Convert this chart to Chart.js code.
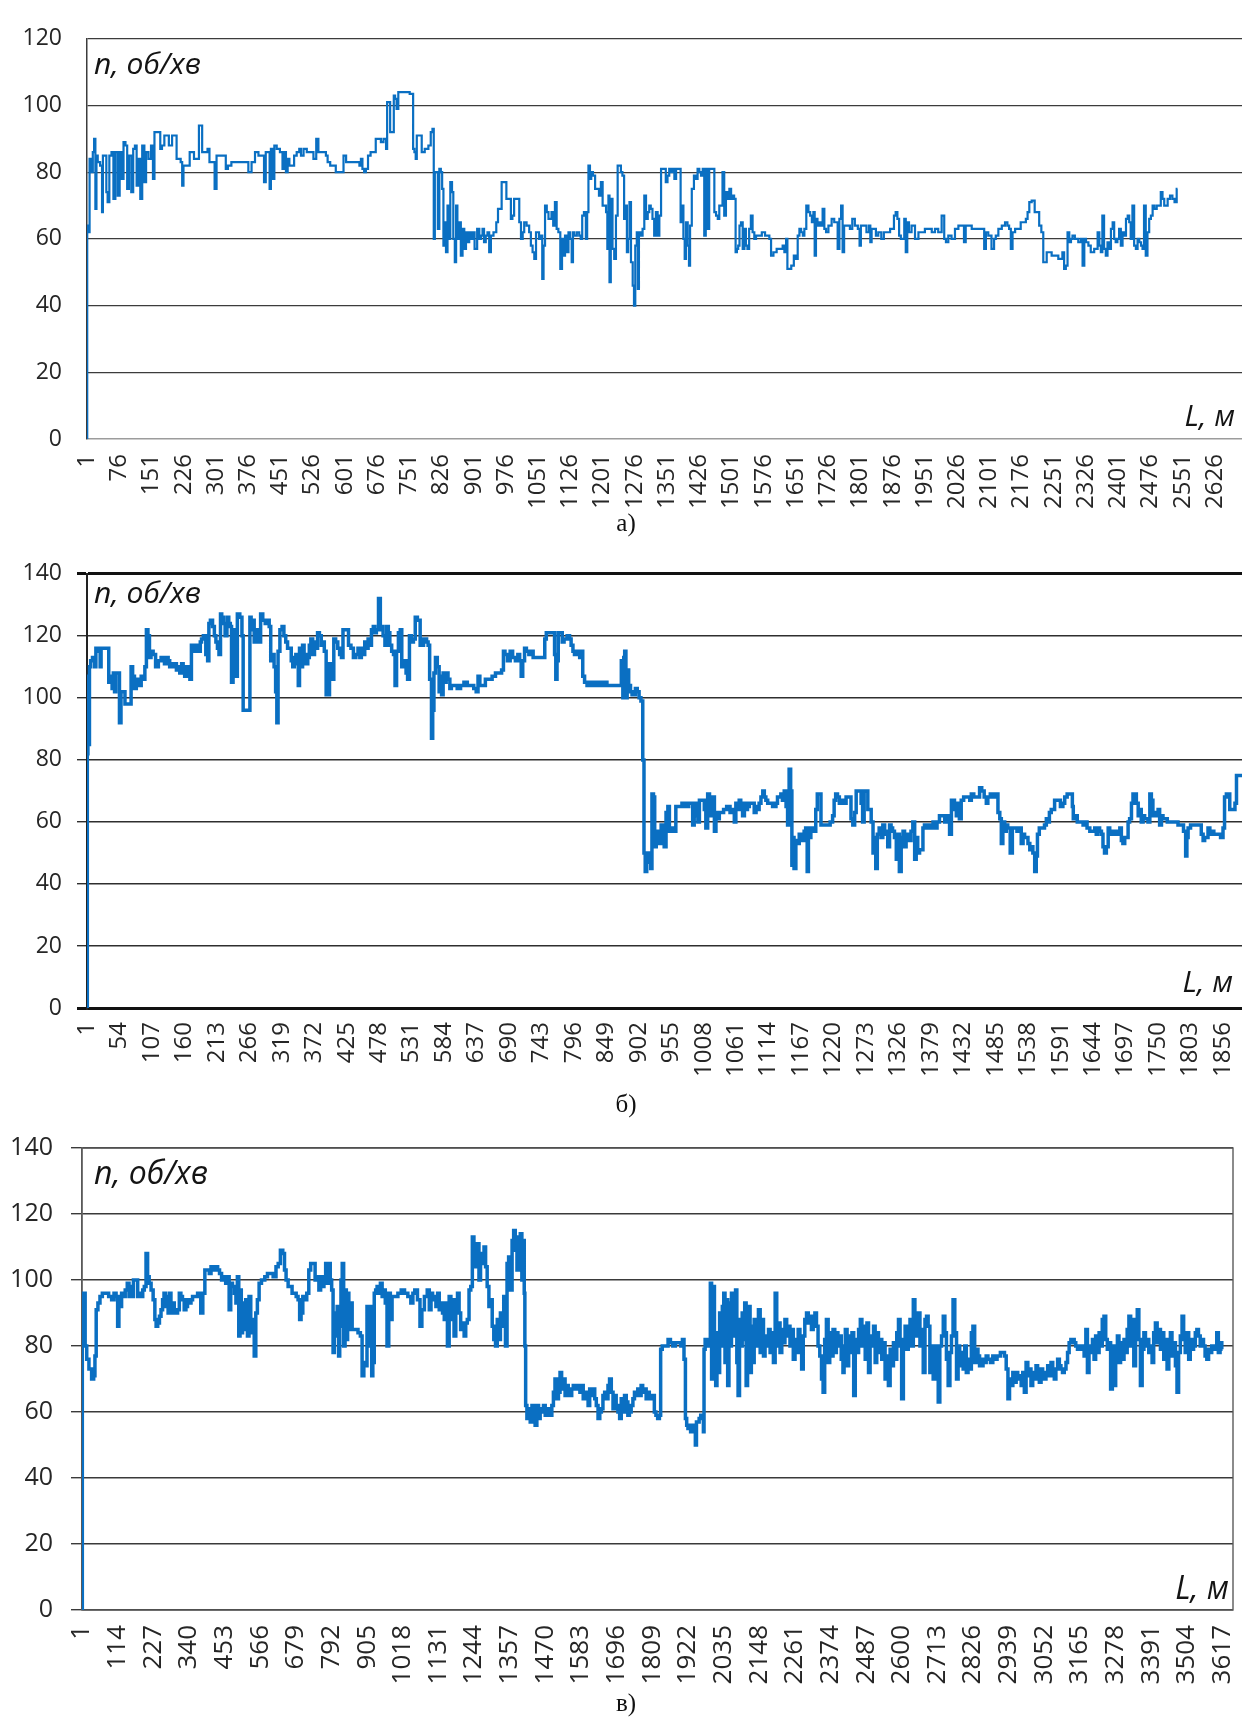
<!DOCTYPE html>
<html lang="uk">
<head>
<meta charset="utf-8">
<title>n, об/хв — L, м</title>
<script src="https://cdn.jsdelivr.net/npm/chart.js@4.4.1/dist/chart.umd.min.js"></script>
<style>
  html, body { margin: 0; padding: 0; background: #fff; }
  body { width: 1242px; height: 1718px; position: relative; overflow: hidden; }
  .panel { position: absolute; left: 0; width: 1242px; }
  .panel canvas { display: block; }
  .cap { position: absolute; z-index: 2; transform: translate(-50%, -50%);
         font-family: "Liberation Serif", "DejaVu Serif", serif; font-size: 25px; color: #111; }
</style>
</head>
<body>
<div class="panel" style="top:0;height:535px"><canvas id="chA" width="1242" height="535"></canvas></div>
<div class="panel" style="top:545px;height:540px"><canvas id="chB" width="1242" height="540"></canvas></div>
<div class="panel" style="top:1115px;height:600px"><canvas id="chC" width="1242" height="600"></canvas></div>
<div class="cap" style="left:626px;top:523px">а)</div>
<div class="cap" style="left:626px;top:1104px">б)</div>
<div class="cap" style="left:626px;top:1703px">в)</div>
<script>
// Rotational speed n (об/хв) against distance L (м) for three runs: [L, n]
const pointsA = [
[1,0],[2,64],[6,62],[8,84],[13,80],[16,86],[19,90],[22,69],[24,85],[28,83],
[35,82],[37,68],[39,85],[45,85],[47,74],[51,71],[55,85],[61,86],[64,72],[70,86],
[75,73],[79,86],[84,78],[88,89],[93,88],[96,75],[101,85],[107,74],[110,87],[115,88],
[118,76],[123,84],[127,72],[132,88],[137,77],[140,86],[148,84],[152,88],[157,78],[159,92],
[171,92],[172,87],[179,88],[183,91],[190,91],[193,88],[198,88],[200,91],[208,91],[211,84],
[217,84],[221,83],[224,76],[227,82],[239,82],[241,86],[249,86],[251,84],[260,84],[263,94],
[268,94],[270,86],[280,86],[283,87],[289,83],[295,83],[301,75],[304,85],[322,85],[326,81],
[332,82],[342,83],[357,83],[373,83],[380,80],[388,83],[396,86],[404,85],[411,85],[415,77],
[419,86],[425,86],[427,75],[431,87],[435,78],[439,88],[446,87],[454,86],[458,81],[462,86],
[466,80],[470,84],[474,82],[481,82],[485,85],[493,86],[497,87],[501,85],[509,87],[516,86],
[524,86],[532,84],[537,90],[542,86],[555,86],[559,85],[563,83],[571,82],[578,82],[582,80],
[594,80],[602,85],[606,83],[633,83],[637,82],[640,84],[644,81],[648,80],[652,81],[658,85],
[664,86],[671,86],[675,90],[683,90],[687,89],[695,90],[699,87],[700,101],[705,101],[708,92],
[714,92],[716,103],[720,102],[723,99],[728,104],[745,104],[759,103.5],[761,87],[765,86],[767,84],
[770,91],[778,91],[782,86],
[792,87],[799,88],[803,92],[807,93],[809,60],[812,80],[816,80],[819,63],[823,81],[826,80],
[829,75],[832,58],[835,65],[838,56],[842,70],[844,60],[849,77],[852,74],[855,60],[859,53],
[861,70],[865,60],[869,65],[873,55],[877,63],[881,57],[885,62],[889,59],[892,62],[896,60],
[900,62],[906,57],[912,63],[916,60],[920,61],[923,63],[927,59],[931,61],[935,62],[939,56],
[943,61],[951,62],[956,65],[959,69],[964,69],[968,77],[975,77],[979,72],[986,72],[989,66],
[993,67],[997,72],[1005,72],[1009,65],[1013,60],[1017,62],[1020,65],[1028,64],[1032,62],[1036,58],
[1040,56],[1044,54],[1048,62],[1051,62],[1055,60],[1059,61],[1062,48],[1065,58],[1069,70],[1073,68],
[1077,66],[1080,66],[1084,68],[1088,64],[1092,71],[1096,63],[1100,62],[1105,51],[1108,60],[1111,55],
[1116,61],[1119,56],[1124,62],[1127,60],[1131,53],[1133,62],[1137,61],[1145,62],[1148,61],[1152,60],
[1155,67],[1160,68],[1164,60],[1166,68],[1170,82],[1173,78],[1176,80],[1181,79],[1186,75],[1190,75],
[1195,73],[1199,77],[1203,70],[1207,70],[1211,68],[1213,57],[1216,73],[1218,47],[1222,72],[1226,57],
[1230,54],[1234,67],[1238,82],[1242,82],[1245,80],[1249,79],[1253,66],[1256,70],[1259,56],[1262,60],
[1265,71],[1269,53],[1273,46],[1275,40],[1279,58],[1282,62],[1284,45],[1287,62],[1292,61],[1296,63],
[1300,73],[1304,66],[1308,68],[1311,70],[1315,69],[1319,66],[1323,61],[1327,68],[1331,61],[1335,67],
[1339,81],[1346,81],[1350,77],[1354,79],[1358,81],[1362,80],[1366,81],[1370,78],[1374,81],[1381,81],
[1384,65],[1387,70],[1391,60],[1393,54],[1397,65],[1401,58],[1403,52],[1406,64],[1411,75],[1416,79],
[1420,78],[1424,81],[1428,80],[1432,79],[1436,81],[1439,61],[1443,81],[1447,63],[1451,81],[1459,81],
[1463,68],[1467,67],[1471,66],[1474,70],[1478,70],[1482,80],[1486,67],[1490,74],[1494,72],[1498,75],
[1502,72],[1505,73],[1509,72],[1512,56],[1515,57],[1518,58],[1521,64],[1525,65],[1529,57],[1533,63],
[1536,58],[1540,57],[1544,63],[1548,67],[1552,62],[1556,60],[1560,61],[1568,61],[1575,62],[1583,61],
[1587,61],[1591,60],[1595,55],[1602,56],[1610,57],[1618,57],[1622,58],[1626,56],[1630,60],[1632,51],
[1637,51],[1643,52],[1649,55],[1653,54],[1657,61],[1661,63],[1665,62],[1669,61],[1672,63],[1678,70],
[1682,68],[1686,67],[1690,65],[1693,68],[1696,55],[1699,66],[1703,64],[1707,65],[1711,64],[1715,69],
[1719,63],[1723,62],[1730,64],[1738,66],[1742,65],[1746,65],[1750,57],[1754,66],[1758,70],[1761,56],
[1765,64],[1773,64],
[1780,63],[1784,66],[1792,64],[1798,63],[1800,58],[1804,64],[1811,64],[1819,62],[1823,64],[1825,59],
[1829,63],[1835,63],[1839,61],[1846,62],[1853,60],[1858,62],[1866,62],[1874,63],[1877,63],[1881,67],
[1885,68],[1889,66],[1893,61],[1897,60],[1901,60],[1905,66],[1908,56],[1912,65],[1916,62],[1924,64],
[1932,60],[1940,62],[1947,62],[1955,63],[1963,63],[1971,62],[1978,63],[1986,62],[1994,67],[1998,60],
[2002,59],[2009,61],[2017,60],[2025,63],[2033,64],[2040,64],[2044,59],[2048,64],[2056,64],[2064,63],
[2079,63],[2087,63],[2091,57],[2095,62],[2102,61],[2110,57],[2114,60],[2118,61],[2126,63],[2134,64],
[2141,65],[2145,64],[2149,63],[2153,57],[2157,62],[2165,63],[2172,63],[2176,65],[2184,65],[2188,66],
[2192,68],[2196,71],[2203,71.5],[2210,68],[2215,68],[2219,64],[2225,62],[2228,53],[2233,53],[2236,56],
[2242,56],[2250,55],[2258,55],[2265,54],[2269,54],[2273,56],[2277,51],[2281,52],[2285,62],[2289,59],
[2293,60],[2296,61],[2304,60],[2312,59],[2316,60],[2320,52],[2324,60],[2328,59],[2335,58],[2339,56],
[2343,56],[2347,57],[2351,57],[2355,62],[2359,58],[2362,56],[2366,67],[2370,57],[2374,55],[2378,59],
[2382,57],[2386,63],[2390,65],[2393,60],[2397,59],[2401,60],[2405,63],[2409,58],[2413,62],[2417,61],
[2421,66],[2425,67],[2428,65],[2432,60],[2436,70],[2440,58],[2444,57],[2448,60],[2452,59],[2456,58],
[2459,57],[2463,70],[2467,55],[2471,62],[2475,66],[2479,67],[2483,70],[2487,69],[2494,70],[2498,70],
[2502,74],[2506,72],[2510,70],[2514,70],[2518,72],[2525,73],[2529,72],[2535,71],[2539,75]
];

const pointsB = [
[1,0],[2,82],[3,107],[4,85],[6,110],[8,112],[12,113],[15,110],[16,116],[22,115],
[23,110],[25,116],[32,116],[36,116],[37,105],[41,107],[43,103],[45,108],[47,102],[49,108],
[53,108],[55,92],[58,102],[61,102],[65,98],[72,98],[74,110],[77,107],[80,103],[83,106],
[88,104],[91,107],[94,106],[97,110],[99,122],[102,120],[104,113],[107,115],[111,114],[115,110],
[120,112],[124,113],[126,112],[129,111],[132,113],[135,112],[137,110],[140,111],[143,110],[146,111],
[148,109],[151,110],[154,108],[157,111],[159,110],[162,107],[165,110],[168,109],[170,106],[173,117],
[176,116],[178,115],[182,117],[185,115],[187,118],[189,119],[193,120],[197,114],[199,112],[201,124],
[204,125],[208,123],[210,120],[213,118],[215,116],[218,114],[220,127],[222,126],[225,124],[228,120],
[231,126],[234,124],[236,123],[238,105],[241,120],[243,122],[245,107],[248,127],[253,126],[255,120],
[257,96],[266,96],[268,126],[270,122],[272,125],[276,118],[279,122],[281,120],[283,118],[286,127],
[290,125],[294,124],[297,125],[300,123],[302,112],[305,114],[308,110],[310,102],[312,92],[314,115],
[318,122],[321,123],[324,120],[327,118],[330,116],[333,116],[336,112],[338,110],[341,113],[343,114],
[345,111],[347,104],[349,116],[352,110],[354,117],[357,114],[360,111],[363,113],[365,117],[368,119],
[371,114],[374,118],[376,116],[379,121],[382,120],[385,117],[387,118],[390,115],[393,101],[396,101],
[398,111],[400,106],[403,106],[405,119],[409,118],[412,116],[415,114],[418,113],[420,122],[426,122],
[430,117],[434,116],[438,113],[442,114],[445,116],[448,113],[450,116],[453,114],[456,118],[459,116],
[461,119],[464,117],[467,122],[470,123],[472,121],[475,122],[479,132],[481,122],[483,123],[486,120],
[489,117],[492,123],[494,121],[497,117],[500,115],[503,114],[505,104],[508,115],[511,121],[514,122],
[516,110],[521,112],[523,108],[526,106],[529,120],[532,118],[536,119],[538,126],[543,125],[547,117],
[554,119],[557,118],[559,117],[562,106],[565,87],[566,96],[569,108],[571,113],[575,110],[577,102],
[579,107],[581,101],[584,108],[586,105],[589,108],[592,106],[595,103],[597,104],[603,104],[608,103],
[614,104],[619,105],[625,104],[630,104],[635,103],[638,102],[641,107],[644,104],[649,104],[654,106],
[660,106],[665,107],[671,108],[676,108],[680,109],[682,115],[685,114],[690,112],[694,115],[698,113],
[703,112],[706,114],[709,112],[711,107],[714,112],[717,116],[720,115],[725,114],[728,115],[731,113],
[747,113],[750,119],[752,121],[763,121],[766,114],[767,106],[770,112],[771,121],[776,121],[778,118],
[782,119],[788,120],[790,119],[793,117],[796,115],[798,114],[804,115],[807,113],[809,115],[812,107],
[815,105],[820,104],[826,105],[831,104],[836,105],[842,104],[847,105],[853,104],[872,104],[875,112],
[877,100],[878,113],[880,115],[882,100],[884,109],[887,104],[890,102],[892,101],[895,101],[898,103],
[901,102],[904,100],[907,99],[910,80],[911,50],[914,44],[916,50],[918,47],[921,50],[922,45],
[925,69],[927,68],[929,52],[932,55],[934,57],[937,53],[940,59],[942,55],[945,52],[948,63],
[951,65],[953,57],[956,57],[959,58],[961,57],[964,65],[970,65],[975,66],[981,65],[986,66],
[989,66],[991,59],[994,62],[997,66],[1000,60],[1002,67],[1008,67],[1010,64],[1013,58],[1016,69],
[1019,68],[1021,62],[1024,68],[1027,57],[1029,63],[1032,61],[1035,63],[1038,63],[1043,64],[1048,65],
[1054,63],[1057,64],[1059,60],[1062,66],[1065,64],[1067,67],[1070,66],[1073,62],[1076,66],[1078,64],
[1081,65],[1084,66],[1089,66],[1092,63],[1095,65],[1097,64],[1100,66],[1103,68],[1106,70],[1108,68],
[1111,67],[1114,66],[1119,66],[1122,65],[1125,65],[1127,66],[1130,68],[1133,68],[1135,69],[1138,67],
[1141,70],[1144,65],[1146,59],[1149,77],[1151,70],[1153,46],[1154,55],[1157,45],[1160,54],[1163,53],
[1165,56],[1168,55],[1171,54],[1173,57],[1176,58],[1178,44],[1180,58],[1182,55],[1184,58],[1187,58],
[1190,57],[1192,64],[1195,69],[1198,69],[1201,59],[1206,59],[1212,59],[1217,60],[1220,62],[1222,67],
[1225,69],[1228,68],[1231,66],[1233,67],[1239,66],
[1242,68],[1247,68],[1250,61],[1253,59],[1256,63],[1258,70],[1264,70],[1266,66],[1269,60],[1271,70],
[1275,70],[1277,64],[1280,64],[1283,60],[1286,50],[1288,55],[1290,45],[1293,56],[1296,58],[1299,55],
[1302,59],[1305,57],[1307,56],[1310,52],[1313,59],[1315,58],[1318,57],[1321,55],[1324,48],[1326,56],
[1329,44],[1332,55],[1335,57],[1337,52],[1340,55],[1343,56],[1345,54],[1348,57],[1351,60],[1354,48],
[1356,55],[1359,50],[1362,51],[1365,51],[1367,58],[1370,59],[1373,58],[1375,59],[1381,58],[1384,60],
[1386,58],[1392,60],[1394,62],[1400,62],[1403,60],[1405,61],[1408,62],[1411,56],[1414,67],[1416,67],
[1419,64],[1422,62],[1424,66],[1427,61],[1430,67],[1435,68],[1441,68],[1444,67],[1446,69],[1452,68],
[1457,68],[1460,71],[1464,70],[1468,68],[1471,66],[1473,68],[1479,69],[1482,68],[1484,68],[1487,69],
[1490,63],[1493,61],[1495,53],[1498,60],[1501,57],[1503,59],[1506,58],[1511,50],[1513,58],[1517,58],
[1522,57],[1525,58],[1528,53],[1531,56],[1533,55],[1536,55],[1539,53],[1542,51],[1544,52],[1547,50],
[1550,44],[1552,49],[1554,56],[1558,58],[1563,58],[1566,59],[1569,61],[1571,60],[1574,63],[1577,64],
[1580,64],[1582,67],[1588,67],[1593,65],[1596,66],[1599,68],[1604,69],[1609,69],[1611,65],[1612,61],
[1615,62],[1621,60],[1626,60],[1629,59],[1631,60],[1637,58],[1640,57],[1645,57],[1648,58],[1650,56],
[1653,58],[1656,57],[1659,56],[1661,52],[1664,50],[1667,52],[1670,58],[1672,57],[1675,56],[1678,57],
[1680,56],[1683,57],[1686,56],[1689,58],[1691,54],[1694,53],[1697,55],[1700,55],[1702,60],[1705,61],
[1708,66],[1710,69],[1713,69],[1716,66],[1719,62],[1721,64],[1724,60],[1727,62],[1729,61],[1732,61],
[1735,60],[1738,69],[1740,67],[1743,62],[1746,63],[1749,62],[1751,64],[1754,59],[1757,62],[1759,61],
[1762,61],[1768,60],[1773,60],[1781,60],[1784,59],[1789,59],[1794,57],[1796,49],[1798,55],[1800,58],
[1806,59],[1819,59],[1822,56],[1825,54],[1827,55],[1830,55],[1833,58],[1836,56],[1838,57],[1844,56],
[1849,56],[1855,55],[1857,58],[1860,68],[1863,69],[1866,69],[1868,64],[1874,64],[1877,66],[1879,75],
[1887,75]
];

const pointsC = [
[1,0],[3,96],[6,80],[9,96],[13,80],[19,76],[27,73],[36,70],[40,71],[44,77],
[48,91],[55,93],[61,95],[70,96],[80,96],[91,95],[99,94],[106,96],[112,95],[116,86],
[120,95],[124,92],[129,96],[135,95],[141,97],[148,99],[152,95],[157,98],[162,95],[166,100],
[175,100],[180,95],[185,96],[191,95],[196,97],[201,98],[207,108],[211,101],[217,99],[223,97],
[230,94],[234,88],[238,86],[244,87],[249,89],[254,91],[259,94],[263,96],[268,92],[272,95],
[276,90],[280,96],[286,90],[291,93],[296,90],[301,90],[307,91],[312,96],[317,95],[322,94],
[328,91],[333,92],[338,94],[344,93],[349,94],[354,95],[365,95],[370,96],[375,96],[380,90],
[388,96],[393,103],[402,103],[407,102],[413,104],[419,103],[428,104],[434,103],[440,102],[447,100],
[454,101],[459,99],[465,101],[470,91],[475,99],[481,98],[487,96],[491,93],[496,101],[500,83],
[504,97],[508,84],[512,93],[517,85],[523,94],[528,83],[533,95],[539,88],[544,84],[550,77],
[554,90],[560,94],[565,99],[575,100],[586,101],[592,102],[602,102],[612,101],[620,104],[626,105],
[634,109],[641,108],[645,103],[651,100],[658,98],[664,98],[670,96],[677,96],[683,95],[689,94],
[693,88],[698,90],[704,95],[710,94],[717,96],[723,103],[729,105],[738,105],[742,100],[749,101],
[755,97],[760,101],[765,98],[771,100],[776,105],[782,99],[786,105],[790,100],[795,97],[799,78],
[803,90],[807,83],[813,92],[816,77],[820,86],[824,100],[828,105],[833,80],[837,97],[841,82],
[845,96],[849,85],[855,93],[860,85],[871,85],[881,84],[886,83],[892,71],[897,75],[902,74],
[907,92],[913,80],[918,92],[921,71],[925,75],[930,96],[934,97],[939,98],[944,96],[950,99],
[955,95],[960,97],[965,93],[971,80],[976,96],[981,88],[987,95],[997,95],[1008,96],[1018,97],
[1029,96],[1039,95],[1048,93],[1052,96],[1060,97],[1069,94],[1076,86],[1081,91],[1092,95],
[1099,97],[1105,91],[1110,96],[1115,94],[1120,95],[1126,92],[1131,96],[1136,91],[1141,93],[1147,90],
[1152,88],[1157,93],[1162,80],[1168,95],[1173,88],[1178,94],[1183,83],[1189,92],[1194,96],[1199,90],
[1204,85],[1210,87],[1215,83],[1220,87],[1225,88],[1231,97],[1236,98],[1241,113],[1246,110],[1252,104],
[1257,111],[1262,100],[1267,108],[1273,105],[1278,110],[1283,104],[1288,98],[1294,92],[1299,94],[1304,86],
[1309,82],[1315,80],[1320,88],[1325,82],[1330,90],[1335,86],[1341,95],[1346,80],[1351,105],[1356,107],
[1362,97],[1367,112],[1372,115],[1377,109],[1383,103],[1388,113],[1393,114],[1398,100],[1402,112],[1404,96],
[1406,80],[1409,62],[1414,58],[1419,61],[1425,57],[1430,62],[1435,59],[1440,56],[1446,62],[1451,58],
[1456,61],[1461,60],[1467,62],[1472,59],[1477,61],[1482,60],[1488,59],[1493,62],[1498,66],[1503,70],
[1509,64],[1514,66],[1519,72],[1524,67],[1530,70],[1535,65],[1540,68],[1545,67],[1551,65],[1556,67],
[1561,68],[1566,67],[1572,68],[1577,67],[1582,66],[1587,68],[1593,64],[1598,65],[1603,66],[1608,62],
[1613,67],[1619,65],[1624,67],[1629,64],[1634,62],[1640,58],[1645,60],[1650,61],[1655,65],[1661,66],
[1666,64],[1671,68],[1676,70],[1682,66],[1687,61],[1692,65],[1697,62],[1703,60],[1708,58],[1713,64],
[1718,60],[1724,65],[1729,63],[1734,59],[1739,60],[1745,62],[1750,64],[1755,66],[1760,65],[1766,67],
[1771,65],[1776,68],[1781,66],[1787,67],[1792,64],[1797,66],[1802,65],[1808,64],[1813,65],[1818,60],
[1823,59],[1829,58],[1834,59],[1837,79],[1844,80],[1855,80],[1863,82],[1870,81],[1878,80],[1886,81],
[1897,81],[1902,80],[1907,82],[1912,76],[1916,58],[1920,56],[1924,55],[1928,56],[1933,54],[1939,56],
[1944,55],[1947,50],[1951,57],[1955,57],[1960,58],[1965,59],[1970,58],[1972,54],[1974,79],[1979,82],
[1983,81],[1987,80],[1991,82],[1995,99],[1999,70],[2004,98],[2008,80],[2012,68],[2016,84],[2020,72],
[2025,90],[2029,80],[2033,92],[2038,96],[2041,75],[2046,94],[2050,68],[2054,93],[2058,80],[2062,96],
[2067,83],[2071,90],[2075,97],[2079,75],[2083,65],[2088,88],[2092,80],[2096,90],[2100,82],[2104,93],
[2109,68],[2113,85],[2117,92],[2121,72],[2125,86],[2130,75],[2134,88],[2138,80],[2143,84],[2148,91],
[2154,78],[2159,88],[2164,77],[2169,83],[2175,80],[2180,85],[2185,78],[2190,84],[2196,75],[2201,96],
[2206,80],[2211,87],[2217,78],[2222,85],[2227,81],[2232,88],[2238,83],[2243,86],[2248,80],[2253,85],
[2259,76],[2264,82],[2269,78],[2274,85],[2280,79],[2285,73],[2290,83],[2295,88],[2301,90],[2306,87],
[2311,89],[2316,85],[2322,89],[2327,90],[2332,86],[2337,80],[2343,77],[2348,70],[2353,66],[2358,82],
[2364,88],[2369,75],[2374,84],[2379,77],[2385,85],[2390,78],[2395,84],[2400,80],[2405,83],[2411,76],
[2416,72],
[2418,80],[2424,85],[2429,74],[2434,83],[2439,78],[2445,84],[2450,65],[2455,82],[2460,78],[2466,85],
[2471,88],[2476,80],[2481,86],[2487,76],[2492,87],[2497,72],[2502,83],[2508,80],[2513,86],[2518,75],
[2523,84],[2529,78],[2534,82],[2539,76],[2544,81],[2550,70],[2555,77],[2560,68],[2566,79],[2571,74],
[2576,81],[2581,76],[2587,84],[2592,88],[2597,80],[2602,64],[2608,82],[2613,86],[2618,79],[2623,84],
[2629,88],[2634,80],[2639,94],[2644,85],[2650,83],[2655,90],[2660,80],[2665,85],[2671,72],[2676,88],
[2681,89],[2686,86],[2692,72],[2697,80],[2702,70],[2707,78],[2713,80],[2718,63],[2723,80],[2729,83],
[2734,89],[2739,84],[2744,76],[2750,68],[2755,78],[2760,83],[2765,94],[2771,84],[2776,70],[2781,80],
[2786,74],[2792,78],[2797,73],[2802,80],[2807,72],[2813,76],[2818,73],[2823,84],[2828,86],[2834,75],
[2839,79],[2844,77],[2849,74],[2855,74],[2860,76],[2865,75],[2870,77],[2876,76],[2886,75],[2891,77],
[2897,76],[2907,77],[2918,78],[2923,78],[2928,77],[2934,73],[2939,64],[2944,70],[2949,68],[2955,72],
[2960,69],[2965,72],[2970,70],[2976,71],[2981,68],[2986,72],[2991,66],[2997,75],[3002,71],[3007,73],
[3012,68],[3018,72],[3023,70],[3028,74],[3033,71],[3039,69],[3044,73],[3049,71],[3054,70],[3060,72],
[3065,74],[3070,71],[3076,75],[3081,72],[3086,70],[3091,73],[3097,76],[3102,74],[3107,73],[3112,72],
[3118,73],[3123,75],[3128,78],[3133,81],[3139,82],[3144,82],[3149,81],[3154,80],[3160,79],[3165,80],
[3170,79],[3175,80],[3181,77],[3186,85],[3191,72],[3196,80],[3202,78],[3207,82],[3212,76],[3217,83],
[3223,78],[3228,84],[3233,80],[3238,88],[3244,89],[3249,82],[3254,79],[3259,81],[3265,67],[3270,80],
[3275,68],[3281,79],[3286,83],[3291,75],[3296,81],[3302,76],[3307,82],[3312,78],[3317,85],[3323,89],
[3328,80],[3333,88],[3338,74],[3344,84],[3349,91],[3354,82],[3359,68],[3365,79],[3370,84],[3375,80],
[3380,82],[3386,78],[3391,80],[3396,75],[3401,84],[3407,87],[3412,81],[3417,85],[3423,79],[3428,84],
[3433,76],[3438,82],[3444,73],[3449,80],[3454,84],[3459,77],[3465,81],[3470,74],[3475,66],[3480,78],
[3486,83],[3491,89],[3496,82],[3501,78],[3507,84],[3512,76],[3517,82],[3522,79],[3528,80],[3533,84],
[3538,85],[3543,83],[3549,80],[3554,82],[3559,80],[3564,77],[3570,76],[3575,79],[3580,78],[3585,80],
[3591,79],[3596,80],[3601,84],[3606,78],[3612,81],[3617,79]
];

// Distance tick labels (м)
const ticksA = [1,76,151,226,301,376,451,526,601,676,751,826,901,976,1051,1126,1201,1276,1351,1426,
  1501,1576,1651,1726,1801,1876,1951,2026,2101,2176,2251,2326,2401,2476,2551,2626];
const ticksB = [1,54,107,160,213,266,319,372,425,478,531,584,637,690,743,796,849,902,955,1008,
  1061,1114,1167,1220,1273,1326,1379,1432,1485,1538,1591,1644,1697,1750,1803,1856];
const ticksC = [1,114,227,340,453,566,679,792,905,1018,1131,1244,1357,1470,1583,1696,1809,1922,2035,
  2148,2261,2374,2487,2600,2713,2826,2939,3052,3165,3278,3391,3504,3617];

// Axis extents
const lengthMaxA = 2689, lengthMaxB = 1887, lengthMaxC = 3650;
const rpmMaxA = 120, rpmMaxB = 140, rpmMaxC = 140;

const BLUE = '#0a6fc2';
const FONT = '"Open Sans", "DejaVu Sans", sans-serif';
const LABEL = '#262626';

// Axis captions drawn inside the plot area
const innerTitles = {
  id: 'innerTitles',
  afterDraw(chart, args, o) {
    const { ctx, chartArea: a } = chart;
    ctx.save();
    ctx.fillStyle = '#141414';
    ctx.font = `italic ${o.size}px ${FONT}`;
    ctx.textBaseline = 'middle';
    ctx.textAlign = 'left';
    ctx.fillText('n, об/хв', a.left + o.nx, a.top + o.ny);
    ctx.textAlign = 'right';
    ctx.fillText('L, м', a.right - o.lx, a.bottom - o.ly);
    ctx.restore();
  }
};

// Optional outline around the plot area
const plotFrame = {
  id: 'plotFrame',
  beforeDatasetsDraw(chart, args, o) {
    if (!o.show) return;
    const { ctx, chartArea: a } = chart;
    ctx.save();
    ctx.strokeStyle = o.color;
    ctx.lineWidth = o.width;
    ctx.strokeRect(a.left, a.top, a.right - a.left, a.bottom - a.top);
    ctx.restore();
  }
};

function drawPanel(p) {
  new Chart(document.getElementById(p.canvas), {
    type: 'line',
    data: {
      datasets: [{
        data: p.points.map(([x, y]) => ({ x, y })),
        borderColor: BLUE,
        borderWidth: p.lineWidth,
        pointRadius: 0,
        stepped: 'middle',
        fill: false,
        borderJoinStyle: 'miter'
      }]
    },
    options: {
      responsive: false,
      animation: false,
      devicePixelRatio: 1,
      layout: { padding: { top: p.padTop, right: p.padRight, left: 0, bottom: 0 } },
      plugins: {
        legend: { display: false },
        tooltip: { enabled: false },
        innerTitles: p.titles,
        plotFrame: p.frame
      },
      scales: {
        x: {
          type: 'linear',
          min: 1,
          max: p.xMax,
          afterBuildTicks: s => { s.ticks = p.ticks.map(v => ({ value: v })); },
          afterFit: s => { s.height = p.xHeight; s.paddingLeft = 0; s.paddingRight = 0; },
          grid: { display: false, drawTicks: false },
          border: { display: false },
          ticks: {
            autoSkip: false, minRotation: 90, maxRotation: 90,
            padding: p.xPad, color: LABEL,
            font: { family: FONT, size: p.xFont },
            callback: v => String(v)
          }
        },
        y: {
          min: 0,
          max: p.yMax,
          afterFit: s => { s.width = p.yWidth; },
          ticks: { stepSize: 20, padding: p.yPad, color: LABEL, font: { family: FONT, size: p.yFont } },
          grid: {
            color: c => p.grid(c.tick.value)[0],
            lineWidth: c => p.grid(c.tick.value)[1],
            drawTicks: p.tickLen > 0,
            tickLength: p.tickLen
          },
          border: { display: true, color: p.axisColor, width: p.axisWidth }
        }
      }
    },
    plugins: [innerTitles, plotFrame]
  });
}

drawPanel({
  canvas: 'chA', points: pointsA, ticks: ticksA, xMax: lengthMaxA, yMax: rpmMaxA,
  padTop: 24, padRight: 0, yWidth: 87, xHeight: 96, xFont: 24, yFont: 23,
  tickLen: 0, yPad: 25, xPad: 15, lineWidth: 2.2,
  grid: v => v === 0 ? ['#9c9c9c', 1.6] : ['#3c3c3c', 1.3],
  axisColor: '#3c3c3c', axisWidth: 1.5,
  frame: { show: false },
  titles: { size: 30, nx: 7, ny: 27, lx: 7, ly: 22 }
});

drawPanel({
  canvas: 'chB', points: pointsB, ticks: ticksB, xMax: lengthMaxB, yMax: rpmMaxB,
  padTop: 17, padRight: 0, yWidth: 87, xHeight: 77, xFont: 24, yFont: 23,
  tickLen: 10, yPad: 15, xPad: 14, lineWidth: 3.5,
  grid: v => (v === 0 || v === 140) ? ['#111111', 3] : ['#2e2e2e', 1.4],
  axisColor: '#222222', axisWidth: 2,
  frame: { show: false },
  titles: { size: 30, nx: 7, ny: 21, lx: 9, ly: 25 }
});

drawPanel({
  canvas: 'chC', points: pointsC, ticks: ticksC, xMax: lengthMaxC, yMax: rpmMaxC,
  padTop: 16, padRight: 9, yWidth: 82, xHeight: 105, xFont: 26, yFont: 25,
  tickLen: 11, yPad: 18, xPad: 15, lineWidth: 3.5,
  grid: v => ['#3a3a3a', 1.4],
  axisColor: '#5a5a5a', axisWidth: 1.4,
  frame: { show: true, color: '#5a5a5a', width: 1.4 },
  titles: { size: 32, nx: 12, ny: 27, lx: 4, ly: 20 }
});
</script>
</body>
</html>
